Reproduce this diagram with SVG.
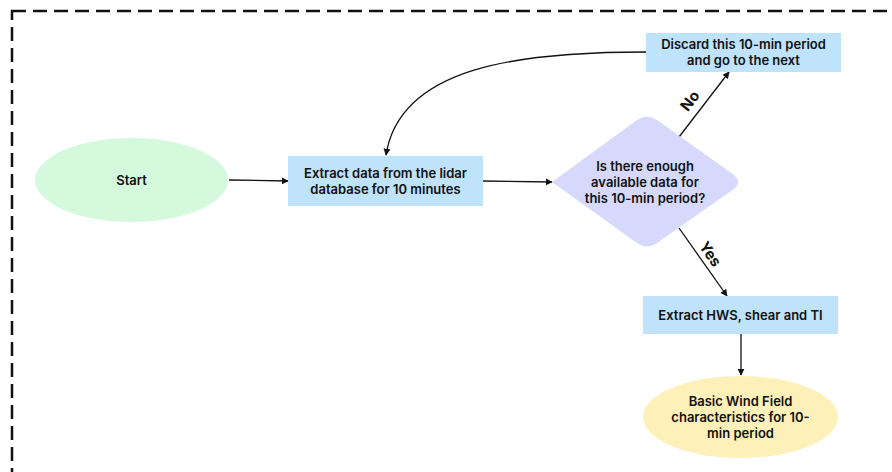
<svg xmlns="http://www.w3.org/2000/svg" width="892" height="472" viewBox="0 0 892 472">
  <defs>
    <marker id="arrow" viewBox="0 0 10 10" refX="9" refY="5" markerWidth="7" markerHeight="7" markerUnits="userSpaceOnUse" orient="auto">
      <path d="M0,0 L10,5 L0,10 z" fill="#111"/>
    </marker>
  </defs>
  <style>
    .lbl { font-family: Inter, "Noto Sans", "Liberation Sans", sans-serif; font-size: 13px; font-weight: 600; fill: #111; text-anchor: middle; }
    .tag { font-family: Inter, "Noto Sans", "Liberation Sans", sans-serif; font-size: 15px; font-weight: 700; fill: #111; text-anchor: middle; }
    .edge { fill: none; stroke: #111; stroke-width: 1.3; marker-end: url(#arrow); }
    .proc { fill: #bfe3fb; }
  </style>
  <rect width="892" height="472" fill="#fff"/>
  <!-- dashed outer frame -->
  <rect x="12" y="11" width="900" height="480" fill="none" stroke="#111" stroke-width="2.5" stroke-dasharray="14 7"/>

  <g id="connectors">
    <line class="edge" x1="229" y1="180" x2="288" y2="181"/>
    <line class="edge" x1="483" y1="181" x2="552" y2="182"/>
    <line class="edge" x1="679" y1="137" x2="729" y2="72"/>
    <path class="edge" d="M646,52 C520,52 400,66 386,155"/>
    <line class="edge" x1="679" y1="228" x2="727" y2="296"/>
    <line class="edge" x1="741" y1="334" x2="741" y2="375"/>
    <text class="tag" transform="translate(694,104) rotate(-52)">No</text>
    <text class="tag" transform="translate(706,257) rotate(56)">Yes</text>
  </g>

  <g id="start">
    <ellipse cx="131.5" cy="180" rx="96.5" ry="42" fill="#d4f9dc"/>
    <text class="lbl" x="131.5" y="185">Start</text>
  </g>

  <g id="extract-data">
    <rect class="proc" x="288" y="156" width="195" height="50"/>
    <text class="lbl" x="385.5" y="178">Extract data from the lidar</text>
    <text class="lbl" x="385.5" y="194">database for 10 minutes</text>
  </g>

  <g id="check-data">
    <path d="M552,182 L637,120 Q647,113 657,120 L734,175 Q742,182 734,189 L657,243 Q647,250 637,243 Z" fill="#d6d9fb"/>
    <text class="lbl" x="645" y="171">Is there enough</text>
    <text class="lbl" x="645" y="187">available data for</text>
    <text class="lbl" x="645" y="203">this 10-min period?</text>
  </g>

  <g id="discard">
    <rect class="proc" x="646" y="33" width="195" height="39"/>
    <text class="lbl" x="743.5" y="49">Discard this 10-min period</text>
    <text class="lbl" x="743.5" y="65">and go to the next</text>
  </g>

  <g id="extract-hws">
    <rect class="proc" x="643" y="296" width="195" height="38"/>
    <text class="lbl" x="740.5" y="320">Extract HWS, shear and TI</text>
  </g>

  <g id="result">
    <ellipse cx="740.5" cy="417" rx="97.5" ry="41" fill="#fdf0b9"/>
    <text class="lbl" x="740.5" y="406">Basic Wind Field</text>
    <text class="lbl" x="740.5" y="422">characteristics for 10-</text>
    <text class="lbl" x="740.5" y="438">min period</text>
  </g>
</svg>
